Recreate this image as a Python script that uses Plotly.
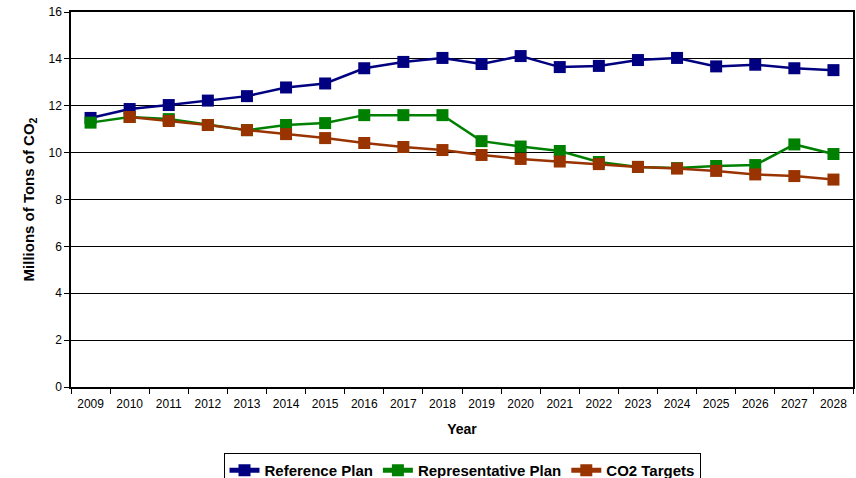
import plotly.graph_objects as go

years = [str(y) for y in range(2009, 2029)]
reference_plan = [11.48, 11.86, 12.03, 12.22, 12.41, 12.78, 12.95, 13.6, 13.87, 14.04,
                  13.78, 14.12, 13.65, 13.7, 13.95, 14.04, 13.68, 13.75, 13.6, 13.52]
representative_plan = [11.28, 11.52, 11.43, 11.18, 10.96, 11.18, 11.26, 11.6, 11.6, 11.6,
                       10.49, 10.26, 10.07, 9.6, 9.39, 9.34, 9.43, 9.47, 10.35, 9.94]
co2_targets = [None, 11.52, 11.35, 11.18, 10.96, 10.79, 10.62, 10.41, 10.24, 10.11,
               9.9, 9.73, 9.62, 9.51, 9.39, 9.32, 9.22, 9.07, 9.0, 8.85]

series = [
    ("Reference Plan", reference_plan, "#000080"),
    ("Representative Plan", representative_plan, "#008000"),
    ("CO2 Targets", co2_targets, "#993300"),
]

fig = go.Figure()
for name, vals, color in series:
    fig.add_trace(go.Scatter(
        x=years, y=vals, name=name, mode="lines+markers",
        line=dict(color=color, width=2.5),
        marker=dict(symbol="square", size=12, color=color),
        connectgaps=False,
    ))

fig.update_layout(
    width=856, height=478,
    margin=dict(l=71, r=3, t=12, b=91, autoexpand=False),
    paper_bgcolor="white", plot_bgcolor="white",
    font=dict(family="Liberation Sans, Arial, sans-serif", size=12, color="black"),
    showlegend=True,
    legend=dict(
        orientation="h", x=0.5, xanchor="center", y=-0.176, yanchor="top",
        bordercolor="black", borderwidth=1, itemsizing="constant",
        font=dict(size=15, family="Liberation Sans, Arial, sans-serif", weight="bold"),
        itemwidth=30, tracegroupgap=0,
    ),
)
fig.update_xaxes(
    type="category", range=[-0.5, 19.5], tickson="boundaries", ticks="outside", ticklen=5,
    tickcolor="black", showline=True, linecolor="black", linewidth=1.5, mirror=True,
    showgrid=False, tickfont=dict(size=12), ticklabelstandoff=5, automargin=False,
    title=dict(text="<b>Year</b>", font=dict(size=14), standoff=14),
)
fig.update_yaxes(
    range=[0, 16], dtick=2, ticks="outside", ticklen=5, tickcolor="black",
    showline=True, linecolor="black", linewidth=1.5, mirror=True,
    showgrid=True, gridcolor="black", gridwidth=1, zeroline=False,
    tickfont=dict(size=12), automargin=False,
    title=dict(text="<b>Millions of Tons of CO<sub>2</sub></b>", font=dict(size=15), standoff=10),
)

fig.write_html("out.html", config={"displayModeBar": False},
               post_script="document.body.style.margin='0';")
